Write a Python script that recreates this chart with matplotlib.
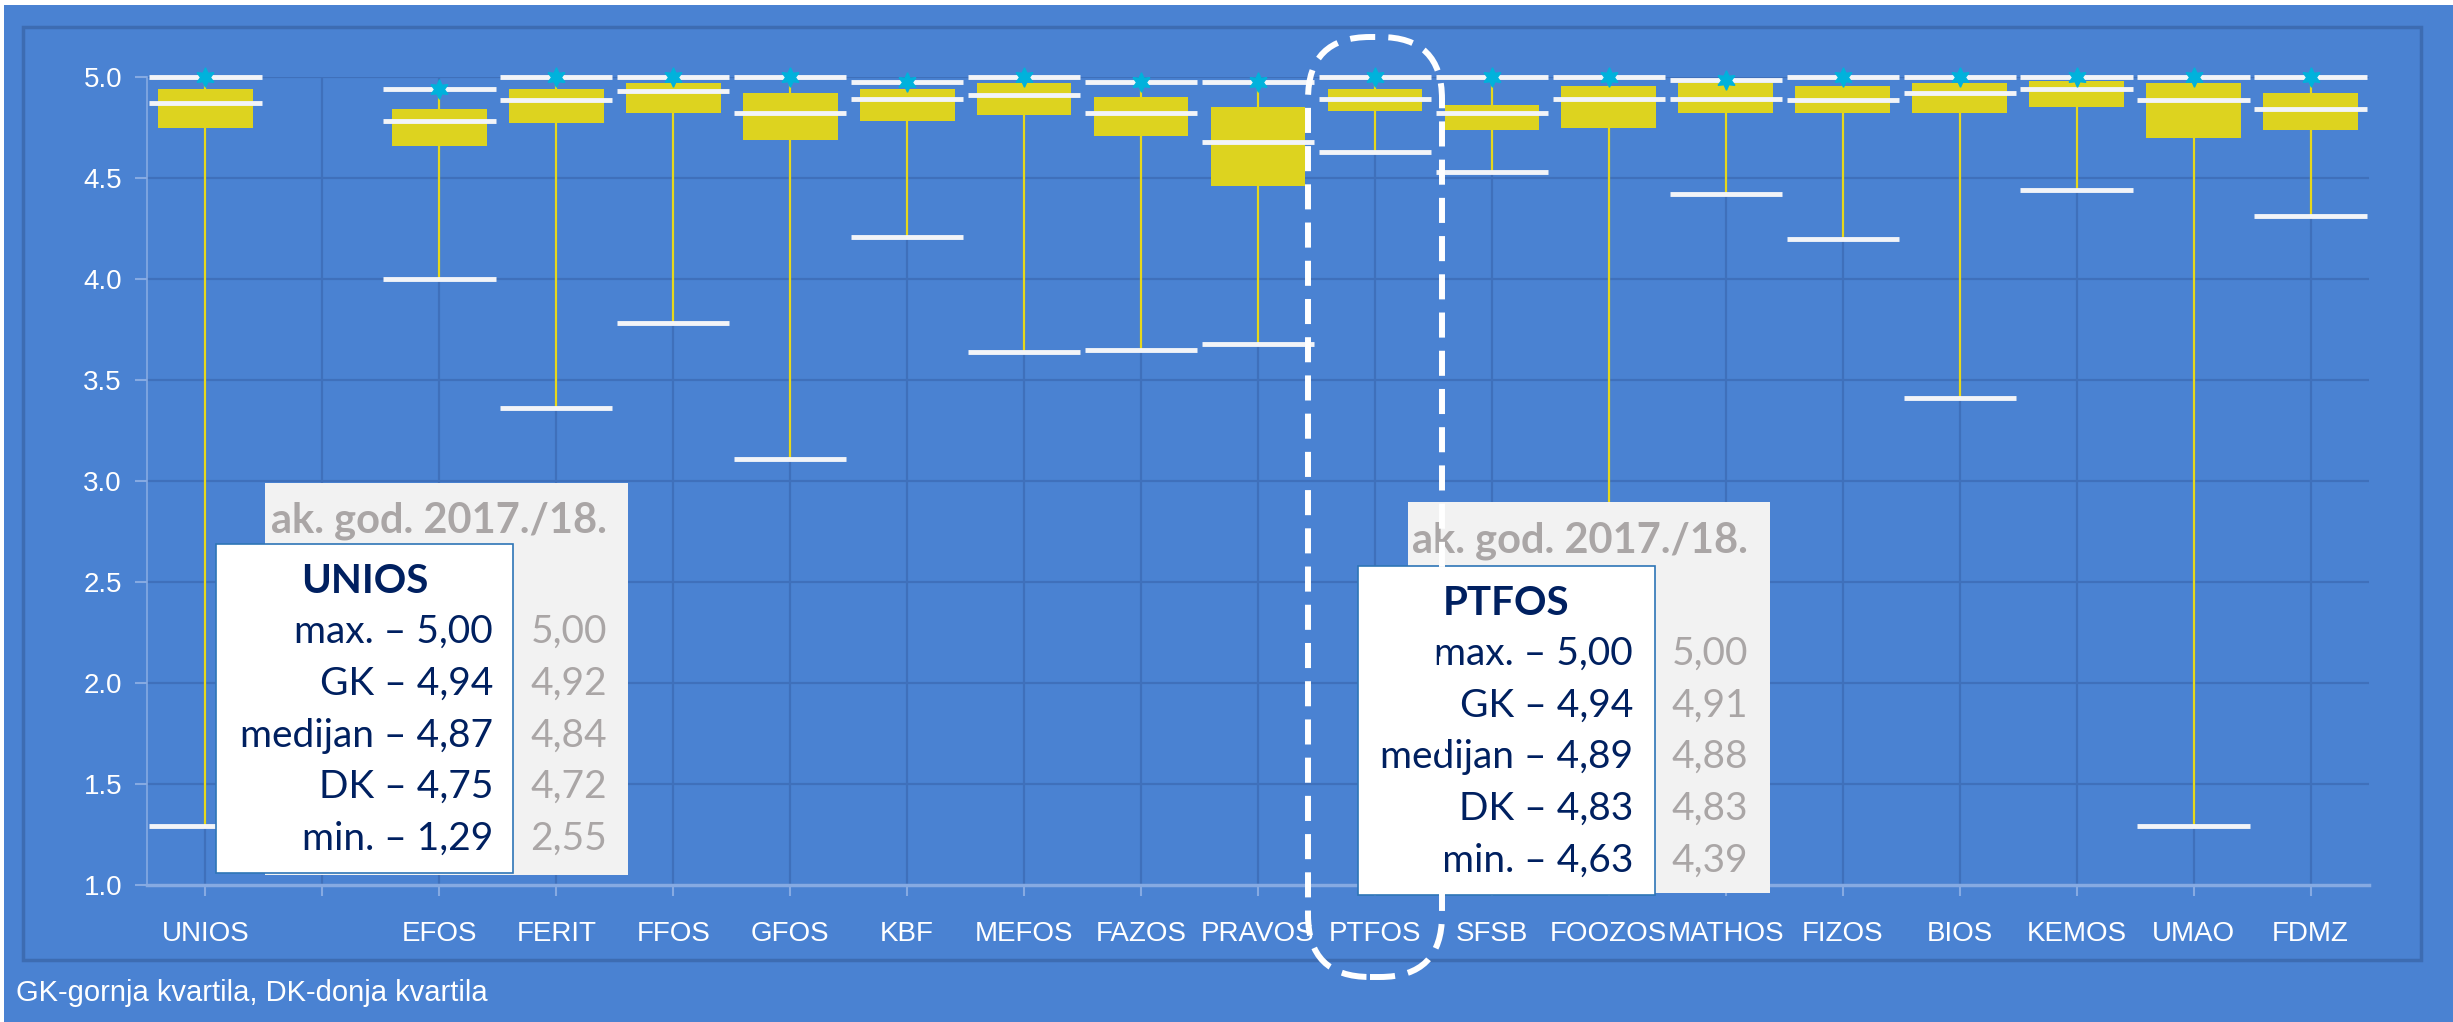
import numpy as np
import matplotlib
matplotlib.use('Agg')
import matplotlib.pyplot as plt
from matplotlib.patches import Rectangle, FancyBboxPatch
from matplotlib.transforms import IdentityTransform

nan = np.nan

categories = ['UNIOS', '', 'EFOS', 'FERIT', 'FFOS', 'GFOS', 'KBF', 'MEFOS', 'FAZOS', 'PRAVOS',
              'PTFOS', 'SFSB', 'FOOZOS', 'MATHOS', 'FIZOS', 'BIOS', 'KEMOS', 'UMAO', 'FDMZ']
max_vals = [5.00, nan, 4.94, 5.00, 5.00, 5.00, 4.975, 5.00, 4.975, 4.975,
            5.00, 5.00, 5.00, 4.985, 5.00, 5.00, 5.00, 5.00, 5.00]
q3_vals = [4.94, nan, 4.84, 4.94, 4.97, 4.92, 4.94, 4.97, 4.90, 4.85,
           4.94, 4.86, 4.955, 4.97, 4.955, 4.97, 4.98, 4.97, 4.92]
med_vals = [4.87, nan, 4.78, 4.885, 4.93, 4.82, 4.89, 4.91, 4.82, 4.68,
            4.89, 4.82, 4.89, 4.89, 4.885, 4.92, 4.94, 4.885, 4.84]
q1_vals = [4.75, nan, 4.66, 4.77, 4.82, 4.69, 4.78, 4.81, 4.71, 4.46,
           4.83, 4.74, 4.75, 4.82, 4.82, 4.82, 4.85, 4.70, 4.74]
min_vals = [1.29, nan, 4.00, 3.36, 3.78, 3.11, 4.21, 3.64, 3.65, 3.68,
            4.63, 4.53, 2.00, 4.42, 4.20, 3.41, 4.44, 1.29, 4.31]
yticks = [1.0, 1.5, 2.0, 2.5, 3.0, 3.5, 4.0, 4.5, 5.0]

stat_names = ['max.', 'GK', 'medijan', 'DK', 'min.']
unios_now = ['5,00', '4,94', '4,87', '4,75', '1,29']
unios_prev = ['5,00', '4,92', '4,84', '4,72', '2,55']
ptfos_now = ['5,00', '4,94', '4,89', '4,83', '4,63']
ptfos_prev = ['5,00', '4,91', '4,88', '4,83', '4,39']
prev_year = 'ak. god. 2017./18.'
footnote = 'GK-gornja kvartila, DK-donja kvartila'

W, H = 2453, 1022
BG = '#4a82d2'
GRID = '#3f70bb'
LIGHT = '#86aae2'
YELLOW = '#ddd31f'
NAVY = '#002060'
GREY_TXT = '#aaa6a6'
sans = ['Liberation Sans', 'DejaVu Sans']
box_font = ['Lato', 'DejaVu Sans']

fig = plt.figure(figsize=(W / 100, H / 100), dpi=100, facecolor=BG)

# white strips at top and left edge
fig.add_artist(Rectangle((0, 1 - 5 / H), 1, 5 / H, transform=fig.transFigure,
                         facecolor='white', edgecolor='none'))
fig.add_artist(Rectangle((0, 0), 4 / W, 1, transform=fig.transFigure,
                         facecolor='white', edgecolor='none'))
# outer frame
fig.add_artist(Rectangle((23 / W, 1 - 960 / H), (2421 - 23) / W, (960 - 27) / H,
                         transform=fig.transFigure, facecolor='none',
                         edgecolor='#3d6cb2', lw=2.5))

ax = fig.add_axes([147 / W, 1 - 885 / H, (2369 - 147) / W, (885 - 77) / H])
ax.set_facecolor('none')
x = np.arange(len(categories))
ax.set_xlim(-0.5, len(categories) - 0.5)
ax.set_ylim(1.0, 5.0)

ax.set_yticks(yticks)
ax.set_yticklabels([f'{v:.1f}' for v in yticks], color='white', fontsize=20, family=sans)
ax.set_xticks(x)
ax.set_xticklabels(categories, color='white', fontsize=20, family=sans)
ax.tick_params(axis='y', length=9, width=1.5, color=LIGHT, pad=9)
ax.tick_params(axis='x', length=8, width=1.5, color=LIGHT, pad=18)
for s in ['top', 'right']:
    ax.spines[s].set_visible(False)
ax.spines['left'].set_color(LIGHT)
ax.spines['left'].set_linewidth(1.2)
ax.spines['bottom'].set_color(LIGHT)
ax.spines['bottom'].set_linewidth(2.5)
ax.grid(True, color=GRID, lw=1.6)
ax.set_axisbelow(True)

mx = np.array(max_vals)
q3 = np.array(q3_vals)
md = np.array(med_vals)
q1 = np.array(q1_vals)
mn = np.array(min_vals)

box_w = 0.81
line_w = 0.96
ax.vlines(x, mn, q1, color='#e6d81c', lw=1.6, zorder=2)
ax.vlines(x, q3, mx, color='#e6d81c', lw=1.6, zorder=2)
ax.bar(x, q3 - q1, bottom=q1, width=box_w, color=YELLOW, edgecolor='none', zorder=3)
ax.hlines(mx, x - line_w / 2, x + line_w / 2, color='#f2f4f8', lw=3.5, zorder=4, clip_on=False)
ax.hlines(mn, x - line_w / 2, x + line_w / 2, color='#f2f4f8', lw=3.5, zorder=4)
ax.hlines(md, x - line_w / 2, x + line_w / 2, color='#f2f4f8', lw=3.5, zorder=4)
ax.plot(x, mx, ls='none', marker=(6, 1, 0), ms=14, color='#00b2dc', mec='#00b2dc',
        zorder=5, clip_on=False)


def px(xp, yp):
    return xp / W, 1 - yp / H


def stat_box(grey, white, right_now, right_prev, title_x, year_base, title_base,
             line_bases, name, now_vals, prev_vals):
    gx0, gy0, gx1, gy1 = grey
    fig.add_artist(Rectangle(px(gx0, gy1), (gx1 - gx0) / W, (gy1 - gy0) / H,
                             transform=fig.transFigure, facecolor='#f2f2f2',
                             edgecolor='none', zorder=5))
    wx0, wy0, wx1, wy1 = white
    fig.add_artist(Rectangle(px(wx0, wy1), (wx1 - wx0) / W, (wy1 - wy0) / H,
                             transform=fig.transFigure, facecolor='white',
                             edgecolor='#2e75b6', lw=1.2, zorder=6))
    fig.text(*px(right_prev, year_base), prev_year, ha='right', va='baseline',
             fontsize=30, fontweight='bold', color=GREY_TXT, family=box_font, zorder=7)
    fig.text(*px(title_x, title_base), name, ha='center', va='baseline',
             fontsize=29, fontweight='bold', color=NAVY, family=box_font, zorder=7)
    for nm, v_now, v_prev, yb in zip(stat_names, now_vals, prev_vals, line_bases):
        fig.text(*px(right_now, yb), f'{nm} \u2013 {v_now}', ha='right', va='baseline',
                 fontsize=28, color=NAVY, family=box_font, zorder=7)
        fig.text(*px(right_prev, yb), v_prev, ha='right', va='baseline',
                 fontsize=28, color=GREY_TXT, family=box_font, zorder=7)


stat_box((265, 483, 628, 875), (216, 544, 513, 873), 493, 607, 365, 532, 593,
         [643, 695, 747, 798, 850], 'UNIOS', unios_now, unios_prev)
stat_box((1408, 502, 1770, 893), (1358, 566, 1655, 895), 1633, 1748, 1506, 552, 615,
         [665, 717, 768, 820, 872], 'PTFOS', ptfos_now, ptfos_prev)

# dashed rounded frame around PTFOS
hl = FancyBboxPatch((1308, H - 977), 1442 - 1308, 977 - 37,
                    boxstyle='round,pad=0,rounding_size=62', transform=IdentityTransform(),
                    facecolor='none', edgecolor='white', lw=4.3, linestyle=(0, (4.2, 2.2)),
                    zorder=8)
fig.add_artist(hl)

fig.text(*px(16, 1001), footnote, ha='left', va='baseline', color='white',
         fontsize=21, family=sans)

fig.savefig('out.png', dpi=100, facecolor=BG)
